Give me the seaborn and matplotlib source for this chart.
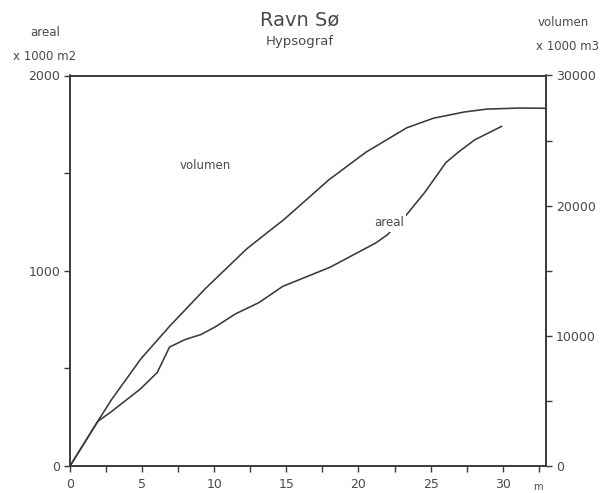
import matplotlib
matplotlib.use("Agg")
import matplotlib.pyplot as plt
from matplotlib.ticker import MultipleLocator, FixedLocator
import seaborn as sns
import pandas as pd

# depth (m) and values
vol_depth = [0, 1.92, 2.88, 4.92, 6.94, 9.43, 12.27, 14.86, 17.94, 20.52, 23.34, 25.2, 27.3, 28.9, 31.2, 33.0]
volumen = [0, 3420, 5100, 8240, 10780, 13680, 16700, 18960, 21980, 24110, 25980, 26720, 27190, 27420, 27500, 27480]

areal_depth = [0, 1.92, 2.86, 4.87, 6.05, 6.9, 7.96, 9.1, 10.06, 11.47, 13.1, 14.75, 18.03, 21.19, 22.0, 23.3, 24.6, 26.06, 27.0, 28.07, 29.94]
areal = [0, 228, 278, 394, 479, 609, 647, 674, 712, 779, 837, 920, 1018, 1142, 1184, 1284, 1402, 1554, 1612, 1671, 1740]

x_ticks = [0, 5, 10, 15, 20, 25, 30]
left_ticks = [0, 1000, 2000]
right_ticks = [0, 10000, 20000, 30000]

sns.set_style("ticks")
plt.rcParams['font.family'] = ['DejaVu Sans']

W, H = 602, 493
fig = plt.figure(figsize=(W / 100, H / 100), dpi=100)
L, R, T, B = 70, 546, 75.5, 466
ax = fig.add_axes([L / W, (H - B) / H, (R - L) / W, (B - T) / H])
ax2 = ax.twinx()

line_c = "#3a3a3a"
text_c = "#4a4a4a"

df_a = pd.DataFrame({"depth": areal_depth, "areal": areal})
df_v = pd.DataFrame({"depth": vol_depth, "volumen": volumen})
sns.lineplot(data=df_a, x="depth", y="areal", ax=ax, color=line_c, lw=1.15, sort=False)
sns.lineplot(data=df_v, x="depth", y="volumen", ax=ax2, color=line_c, lw=1.15, sort=False)

ax.set_xlim(0, 33)
ax.set_ylim(0, 2000)
ax2.set_ylim(0, 30000)

ax.set_xlabel("")
ax.set_ylabel("")
ax2.set_ylabel("")

ax.xaxis.set_major_locator(FixedLocator(x_ticks))
ax.xaxis.set_minor_locator(MultipleLocator(2.5))
ax.yaxis.set_major_locator(FixedLocator(left_ticks))
ax.yaxis.set_minor_locator(MultipleLocator(500))
ax2.yaxis.set_major_locator(FixedLocator(right_ticks))
ax2.yaxis.set_minor_locator(MultipleLocator(5000))

for a in (ax, ax2):
    for s in a.spines.values():
        s.set_visible(True)
        s.set_color(line_c)
        s.set_linewidth(1.2)
    a.tick_params(which="both", direction="out", length=4, width=1.0, color=line_c,
                  labelsize=9, labelcolor=text_c, pad=3)

ax.tick_params(axis="x", which="both", top=False, bottom=True)
ax.tick_params(axis="y", which="both", left=True, right=False)
ax2.tick_params(axis="y", which="both", left=False, right=True)
ax.tick_params(axis="x", pad=5)

# in-plot labels
ax.text(9.4, 1540, "volumen", fontsize=8.5, color=text_c, ha="center", va="center")
ax.text(22.1, 1245, "areal", fontsize=8.5, color=text_c, ha="center", va="center",
        bbox=dict(facecolor="white", edgecolor="none", pad=1.5))

# titles and axis captions
fig.text(300 / W, 1 - 20 / H, "Ravn Sø", fontsize=14, color=text_c, ha="center", va="center")
fig.text(300 / W, 1 - 42 / H, "Hypsograf", fontsize=9.5, color=text_c, ha="center", va="center")
fig.text(45 / W, 1 - 32 / H, "areal", fontsize=8.5, color=text_c, ha="center", va="center")
fig.text(45 / W, 1 - 56 / H, "x 1000 m2", fontsize=8.5, color=text_c, ha="center", va="center")
fig.text(563 / W, 1 - 22 / H, "volumen", fontsize=8.5, color=text_c, ha="center", va="center")
fig.text(567 / W, 1 - 46 / H, "x 1000 m3", fontsize=8.5, color=text_c, ha="center", va="center")
fig.text(538 / W, 1.5 / H, "m", fontsize=7, color=text_c, ha="center", va="bottom")

fig.savefig("out.png", dpi=100, facecolor="white")
